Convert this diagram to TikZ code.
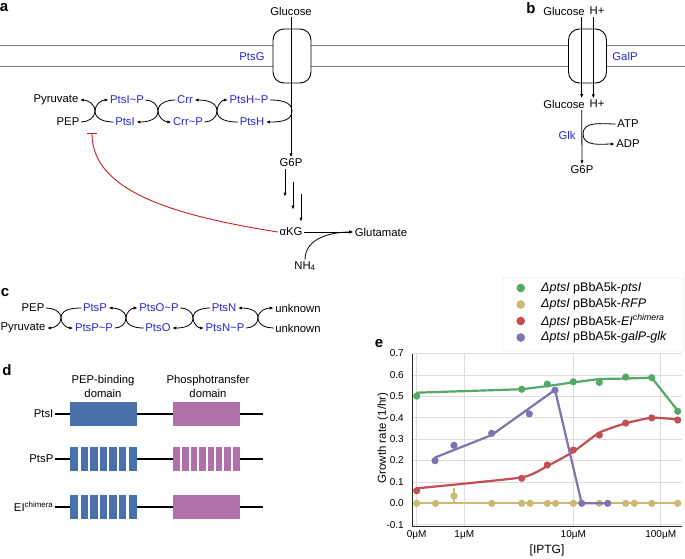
\documentclass[tikz,border=0pt]{standalone}
\usepackage{fontspec}
\setmainfont{Liberation Sans}
\usetikzlibrary{arrows.meta}

\definecolor{pblue}{RGB}{40,40,215}
\definecolor{inhred}{RGB}{200,30,35}
\definecolor{membgray}{RGB}{120,120,120}
\definecolor{pepblue}{RGB}{72,113,170}
\definecolor{phopink}{RGB}{178,112,168}
\definecolor{sbgreen}{RGB}{85,168,104}
\definecolor{sbyellow}{RGB}{204,185,116}
\definecolor{sbred}{RGB}{196,78,82}
\definecolor{sbpurple}{RGB}{129,114,178}

\newcommand{\tld}{\textasciitilde}
% coupled reactions: #1 crossing, #2 -> #3 on the left, #4 -> #5 on the right
\newcommand{\xup}[5]{%
  \draw[rxn] (#2.east) to[out=0,in=-90] (#1) to[out=90,in=0] (#3.east);
  \draw[rxn] (#4.west) to[out=180,in=-90] (#1) to[out=90,in=180] (#5.west);}
\newcommand{\xdown}[5]{%
  \draw[rxn] (#2.east) to[out=0,in=90] (#1) to[out=-90,in=0] (#3.east);
  \draw[rxn] (#4.west) to[out=180,in=90] (#1) to[out=-90,in=180] (#5.west);}

\begin{document}
\begin{tikzpicture}[x=1pt, y=-1pt,
    lbl/.style={inner sep=1.5pt, font=\fontsize{11.3}{14}\selectfont},
    prot/.style={lbl, text=pblue},
    panel/.style={inner sep=0pt, font=\fontsize{15}{17}\selectfont\bfseries},
    rxn/.style={line width=0.8pt, -{Latex[length=4pt,width=3.2pt]}},
    transp/.style={draw, fill=white, line width=0.9pt, rounded corners=11pt,
      inner sep=0pt, minimum width=38pt, minimum height=54pt},
    memb/.style={draw=membgray, line width=0.8pt},
    gridln/.style={draw=black!13, line width=0.7pt},
    ticklbl/.style={inner sep=1pt, font=\fontsize{10}{12}\selectfont},
    legtxt/.style={inner sep=0pt, font=\fontsize{12.5}{14}\selectfont},
    series/.style={line width=2.2pt, line join=round, line cap=round}]
  \useasboundingbox (0,0) rectangle (685,558);
  \fill[white] (0,0) rectangle (685,558);

  % panel labels
  \node[panel] (pa) at (4,8) {a};
  \node[panel] (pb) at (531,8) {b};
  \node[panel] (pc) at (5,293) {c};
  \node[panel] (pd) at (7,370) {d};
  \node[panel] (pe) at (379,344) {e};

  % membrane
  \draw[memb] (0,45) -- (685,45);
  \draw[memb] (0,66) -- (685,66);

  % a
  \node[transp] (ptsg) at (292,56) {};
  \node[prot] (ptsglbl) at (252,56.5) {PtsG};
  \node[lbl] (glc) at (291,11) {Glucose};
  \node[lbl] (g6p) at (291,163) {G6P};
  \draw[rxn] (glc.south) -- (g6p.north);

  \node[lbl] (pyr) at (56,100) {Pyruvate};
  \node[lbl] (pep) at (68,122) {PEP};
  \node[prot] (ptsip) at (127,100) {PtsI\tld P};
  \node[prot] (ptsi) at (125,122) {PtsI};
  \node[prot] (crr) at (185,100) {Crr};
  \node[prot] (crrp) at (188,122) {Crr\tld P};
  \node[prot] (ptshp) at (249,100) {PtsH\tld P};
  \node[prot] (ptsh) at (252,122) {PtsH};
  \coordinate (xa1) at (95,111);
  \coordinate (xa2) at (158,111);
  \coordinate (xa3) at (217,111);
  \coordinate (xa4) at (292,111);
  \xup{xa1}{pep}{pyr}{ptsi}{ptsip}
  \xdown{xa2}{ptsip}{ptsi}{crr}{crrp}
  \xup{xa3}{crrp}{crr}{ptsh}{ptshp}
  \draw[rxn] (ptshp.east) to[out=0,in=90] (xa4) to[out=-90,in=0] (ptsh.east);

  \node[lbl] (akg) at (291,232) {αKG};
  \node[lbl] (glu) at (381,232) {Glutamate};
  \node[lbl] (nh4) at (305,266) {NH\textsubscript{4}};
  \foreach \dx/\dy in {-6/0, 2/13, 10/25}
    \draw[rxn] ([shift={(\dx,\dy)}]g6p.south) -- +(0,28);
  \draw[rxn] (akg.east) -- (glu.west);
  \draw[rxn] (nh4.north) to[out=90,in=180] (glu.west);
  \coordinate (inhib) at (92,133);
  \draw[inhred, line width=0.9pt, -{Bar[width=10pt]}] (akg.west) .. controls (170,215) and (92,190) .. (inhib);

  % b
  \node[transp] (galp) at (587.5,56) {};
  \node[prot] (galplbl) at (625,56) {GalP};
  \node[lbl] (glcb) at (564,11) {Glucose};
  \node[lbl] (hb) at (597,11) {H+};
  \node[lbl] (glcb2) at (564,104) {Glucose};
  \node[lbl] (hb2) at (597,104) {H+};
  \node[lbl] (g6pb) at (582,170) {G6P};
  \node[prot] (glk) at (567,135) {Glk};
  \node[lbl] (atp) at (628,124) {ATP};
  \node[lbl] (adp) at (628,144) {ADP};
  \draw[rxn] ([xshift=17.7pt]glcb.south) -- ([xshift=17.7pt]glcb2.north);
  \draw[rxn] ([xshift=-3.7pt]hb.south) -- ([xshift=-3.7pt]hb2.north);
  \draw[rxn] ([xshift=17.7pt]glcb2.south) -- (g6pb.north);
  \coordinate (glkx) at (583,134);
  \draw[rxn] (atp.west) to[out=180,in=90] (glkx) to[out=-90,in=180] (adp.west);

  % c
  \node[lbl] (pepc) at (33,308) {PEP};
  \node[lbl] (pyrc) at (23,328) {Pyruvate};
  \node[prot] (ptsp) at (95,308) {PtsP};
  \node[prot] (ptspp) at (94,328) {PtsP\tld P};
  \node[prot] (ptsop) at (159,308) {PtsO\tld P};
  \node[prot] (ptso) at (158,328) {PtsO};
  \node[prot] (ptsn) at (224,308) {PtsN};
  \node[prot] (ptsnp) at (225,328) {PtsN\tld P};
  \node[lbl] (unk1) at (298,308) {unknown};
  \node[lbl] (unk2) at (298,328) {unknown};
  \coordinate (xc1) at (61,318);
  \coordinate (xc2) at (126,318);
  \coordinate (xc3) at (193,318);
  \coordinate (xc4) at (258,318);
  \xdown{xc1}{pepc}{pyrc}{ptsp}{ptspp}
  \xup{xc2}{ptspp}{ptsp}{ptso}{ptsop}
  \xdown{xc3}{ptsop}{ptso}{ptsn}{ptsnp}
  \xup{xc4}{ptsnp}{ptsn}{unk2}{unk1}

  % d
  \node[lbl, align=center] (pepdom) at (103,386) {PEP-binding\\domain};
  \node[lbl, align=center] (phodom) at (208,386) {Phosphotransfer\\domain};
  \foreach \y/\name in {414/PtsI, 459/PtsP, 507/{EI\textsuperscript{chimera}}} {
    \node[lbl, anchor=east] (row\y) at (55,\y) {\name};
    \draw[line width=1.5pt] (row\y.east) -- (263,\y);
    \fill[pepblue] (70,\y-12) rectangle (137,\y+12);
    \fill[phopink] (173,\y-12) rectangle (240,\y+12);
  }
  \foreach \y in {459,507}
    \foreach \k in {1,...,6}
      \draw[white, line width=2.2pt] (70+\k*67/7,\y-12) -- (70+\k*67/7,\y+12);
  \foreach \k in {1,...,7}
    \draw[white, line width=2pt] (173+\k*67/8,447) -- (173+\k*67/8,471);

  % e
  \begin{scope}[shift={(0,503.3)}, y=214pt]
    \foreach \v in {-0.1,0.0,0.1,0.2,0.3,0.4,0.5,0.6,0.7} {
      \draw[gridln] (412,\v) -- (682,\v);
      \node[ticklbl, anchor=east] at (405,\v) {\v};
    }
    \foreach \x/\t in {416.7/0μM, 464.3/1μM, 573.3/10μM, 660.7/100μM} {
      \draw[gridln] (\x,-0.11) -- (\x,0.7);
      \node[ticklbl, anchor=north] at (\x,-0.12) {\t};
    }
    \draw[black!85, line width=0.9pt] (412,0.7) -- (412,-0.11) -- (682,-0.11);

    \draw[series, sbgreen] plot coordinates {(416.7,.517) (521.7,.533) (547.3,.548)
      (573.3,.565) (599.3,.581) (625.7,.583) (651.7,.587) (677.7,.433)};
    \foreach \x/\v in {416.7/.501, 521.7/.533, 547.3/.557, 573.3/.568, 599.3/.565,
        625.7/.590, 651.7/.587, 677.7/.430}
      \fill[sbgreen] (\x,\v) circle (3.6pt);

    \draw[series, sbyellow] (416.7,.002) -- (677.7,.002);
    \foreach \x in {416.7, 435.5, 491.7, 521.7, 530, 547.3, 555.5, 573.3, 599.3,
        625.7, 634.3, 651.7, 677.7}
      \fill[sbyellow] (\x,0) circle (3.6pt);
    \draw[sbyellow, line width=1.6pt] (454,0) -- (454,.072);
    \fill[sbyellow] (454,.034) circle (3.6pt);

    \draw[series, sbred] plot[smooth, tension=0.3] coordinates {(416.7,.07) (521.7,.121)
      (547.3,.174) (573.3,.241) (599.3,.33) (625.7,.374) (651.7,.40) (677.7,.392)};
    \draw[sbred, line width=1.6pt] (416.7,.045) -- (416.7,.075);
    \foreach \x/\v in {416.7/.059, 521.7/.117, 547.3/.179, 573.3/.249, 599.3/.319,
        625.7/.375, 651.7/.399, 677.7/.389}
      \fill[sbred] (\x,\v) circle (3.6pt);

    \draw[series, sbpurple] plot coordinates {(435,.214) (491.7,.319) (555,.530)
      (581.7,0) (607.7,0)};
    \foreach \x/\v in {435/.199, 454/.271, 491.7/.327, 529.3/.418, 555/.529,
        581.7/0, 607.7/0}
      \fill[sbpurple] (\x,\v) circle (3.6pt);
  \end{scope}
  \node[lbl, font=\fontsize{12}{14}\selectfont] (xlab) at (547,550) {[IPTG]};
  \node[lbl, font=\fontsize{11.5}{14}\selectfont, rotate=90] (ylab) at (383,438) {Growth rate (1/hr)};

  % legend
  \draw[black!15, fill=white, rounded corners=2pt] (503,278) rectangle (684,351);
  \foreach \c/\t [count=\i] in {sbgreen/\textit{ptsI}, sbyellow/\textit{RFP},
      sbred/{\textit{EI}\textsuperscript{\textit{chimera}}}, sbpurple/\textit{galP-glk}} {
    \pgfmathsetmacro\ly{288+16.5*(\i-1)}
    \fill[\c] (520.7,\ly) circle (4.3pt);
    \node[legtxt, anchor=west] (leg\i) at (541,\ly) {\textit{ΔptsI} pBbA5k-\t};
  }
\end{tikzpicture}
\end{document}
